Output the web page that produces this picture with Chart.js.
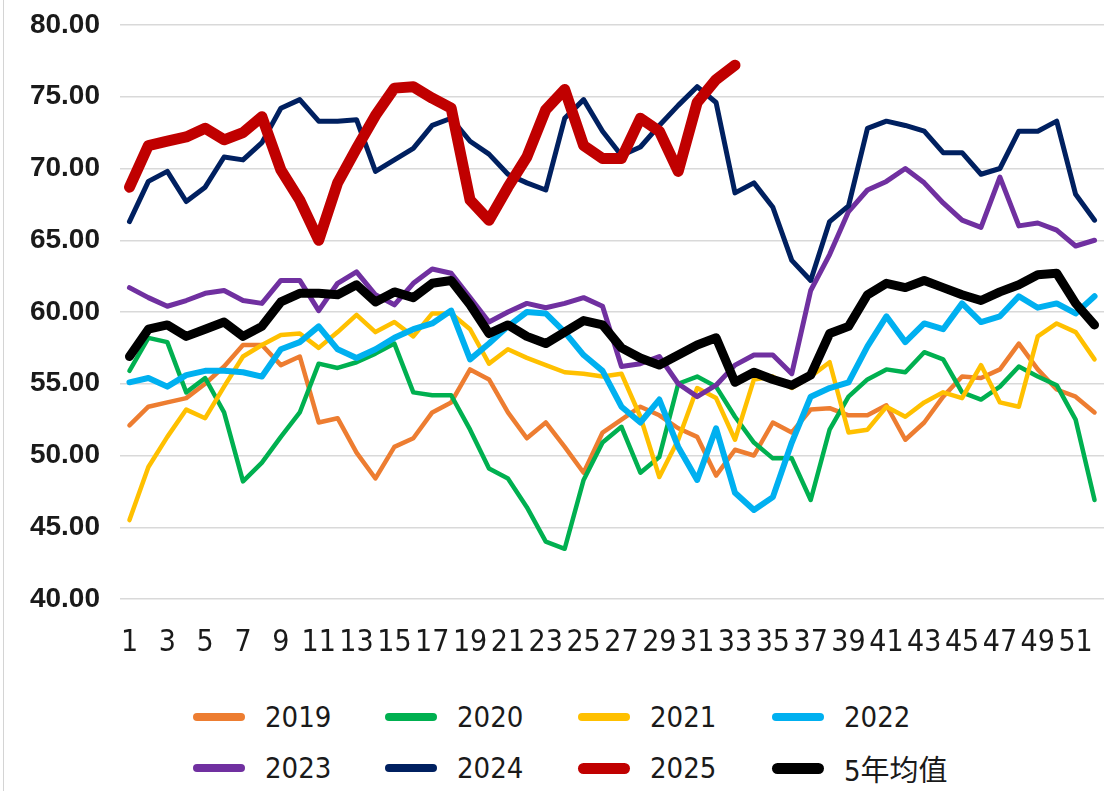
<!DOCTYPE html>
<html>
<head>
<meta charset="utf-8">
<script src="https://cdn.jsdelivr.net/npm/chart.js@4.4.1/dist/chart.umd.min.js"></script>
<style>
  html, body { margin: 0; padding: 0; background: #fff; }
  #wrap { position: relative; width: 1113px; height: 791px; overflow: hidden; background: #fff; }
  #frame { position: absolute; left: 3px; top: 0; width: 1px; height: 791px; background: #d4d4d4; }
  #chartCanvas { position: absolute; left: 0; top: 0; }
  .legend-item {
    position: absolute;
    display: flex;
    align-items: center;
    height: 40px;
    font-family: 'Liberation Sans Narrow', 'DejaVu Sans Condensed', 'Noto Sans CJK SC', sans-serif;
    font-size: 29px;
    color: #1a1a1a;
  }
  .legend-swatch { width: 52px; border-radius: 6px; margin-right: 20px; }
</style>
</head>
<body>
<div id="wrap">
  <div id="frame"></div>
  <canvas id="chartCanvas" width="1113" height="680"></canvas>
  <div id="legend"></div>
</div>
<script>
const weeks = Array.from({ length: 52 }, (_, i) => String(i + 1));
const yTicks = [40, 45, 50, 55, 60, 65, 70, 75, 80];

const y2019 = [52.1, 53.4, 53.7, 54.0, 55.0, 56.2, 57.7, 57.7, 56.3, 56.9, 52.3, 52.6, 50.2, 48.4, 50.6, 51.2, 53.0, 53.7, 56.0, 55.3, 53.0, 51.2, 52.3, 50.6, 48.8, 51.6, 52.5, 53.4, 52.8, 51.9, 51.3, 48.6, 50.4, 50.0, 52.3, 51.6, 53.2, 53.3, 52.8, 52.8, 53.5, 51.1, 52.3, 54.1, 55.5, 55.4, 56.0, 57.8, 56.0, 54.6, 54.1, 53.0];
const y2020 = [55.9, 58.2, 57.9, 54.4, 55.4, 53.0, 48.2, 49.5, 51.3, 53.0, 56.4, 56.1, 56.5, 57.1, 57.8, 54.4, 54.2, 54.2, 51.8, 49.1, 48.4, 46.4, 44.0, 43.5, 48.3, 50.9, 52.0, 48.8, 49.9, 55.0, 55.5, 54.8, 52.7, 50.9, 49.8, 49.8, 46.9, 51.8, 54.1, 55.3, 56.0, 55.8, 57.2, 56.7, 54.4, 53.9, 54.8, 56.2, 55.5, 54.9, 52.5, 46.9];
const y2021 = [45.5, 49.2, 51.3, 53.2, 52.6, 54.8, 56.9, 57.7, 58.4, 58.5, 57.5, 58.6, 59.8, 58.6, 59.3, 58.3, 59.9, 59.9, 58.8, 56.4, 57.4, 56.8, 56.3, 55.8, 55.7, 55.5, 55.7, 52.7, 48.5, 51.1, 54.7, 54.0, 51.1, 55.3, 55.5, 54.7, 55.5, 56.5, 51.6, 51.8, 53.4, 52.7, 53.7, 54.4, 54.0, 56.3, 53.7, 53.4, 58.3, 59.2, 58.6, 56.7];
const y2022 = [55.1, 55.4, 54.8, 55.6, 55.9, 55.9, 55.8, 55.5, 57.4, 57.9, 59.0, 57.4, 56.8, 57.4, 58.2, 58.8, 59.2, 60.1, 56.7, 57.8, 59.0, 60.0, 59.9, 58.6, 57.0, 55.9, 53.4, 52.3, 53.9, 50.6, 48.3, 51.9, 47.4, 46.2, 47.1, 50.9, 54.1, 54.7, 55.1, 57.6, 59.7, 57.9, 59.2, 58.8, 60.6, 59.3, 59.7, 61.1, 60.3, 60.6, 59.9, 61.1];
const y2023 = [61.7, 61.0, 60.4, 60.8, 61.3, 61.5, 60.8, 60.6, 62.2, 62.2, 60.1, 62.0, 62.8, 61.2, 60.5, 62.0, 63.0, 62.7, 61.0, 59.3, 60.0, 60.6, 60.3, 60.6, 61.0, 60.4, 56.2, 56.4, 56.9, 55.0, 54.1, 54.9, 56.3, 57.0, 57.0, 55.7, 61.5, 64.0, 67.0, 68.5, 69.1, 70.0, 69.0, 67.6, 66.4, 65.9, 69.4, 66.0, 66.2, 65.7, 64.6, 65.0];
const y2024 = [66.3, 69.1, 69.8, 67.7, 68.7, 70.8, 70.6, 71.8, 74.2, 74.8, 73.3, 73.3, 73.4, 69.8, 70.6, 71.4, 73.0, 73.5, 71.9, 71.0, 69.6, 69.0, 68.5, 73.5, 74.8, 72.6, 70.9, 71.5, 73.0, 74.4, 75.7, 74.6, 68.3, 69.0, 67.3, 63.6, 62.2, 66.3, 67.4, 72.8, 73.3, 73.0, 72.6, 71.1, 71.1, 69.6, 70.0, 72.6, 72.6, 73.3, 68.2, 66.4];
const y2025 = [68.7, 71.6, 71.9, 72.2, 72.8, 72.0, 72.5, 73.6, 69.9, 67.8, 65.0, 69.0, 71.4, 73.7, 75.6, 75.7, 74.9, 74.2, 67.8, 66.4, 68.7, 70.8, 74.1, 75.5, 71.6, 70.7, 70.7, 73.5, 72.6, 69.8, 74.6, 76.2, 77.2];
const avg5 = [56.9, 58.8, 59.1, 58.3, 58.8, 59.3, 58.3, 59.0, 60.7, 61.3, 61.3, 61.2, 61.9, 60.7, 61.4, 61.0, 62.0, 62.2, 60.5, 58.5, 59.1, 58.3, 57.8, 58.6, 59.4, 59.1, 57.5, 56.8, 56.3, 57.0, 57.7, 58.2, 55.1, 55.8, 55.3, 54.9, 55.6, 58.5, 59.0, 61.2, 62.0, 61.7, 62.2, 61.7, 61.2, 60.8, 61.4, 61.9, 62.6, 62.7, 60.6, 59.1];

const series = [
  { label: "2019", data: y2019, color: "#ED7D31", width: 4.5 },
  { label: "2020", data: y2020, color: "#00B050", width: 4.5 },
  { label: "2021", data: y2021, color: "#FFC000", width: 4.5 },
  { label: "2022", data: y2022, color: "#00B0F0", width: 6 },
  { label: "2023", data: y2023, color: "#7030A0", width: 5 },
  { label: "2024", data: y2024, color: "#002060", width: 5 },
  { label: "2025", data: y2025, color: "#C00000", width: 11 },
  { label: "5年均值", data: avg5, color: "#000000", width: 9 }
];

const narrowFont = "'Liberation Sans Narrow', 'DejaVu Sans Condensed', 'Noto Sans CJK SC', sans-serif";

const ctx = document.getElementById("chartCanvas").getContext("2d");
const chart = new Chart(ctx, {
  type: "line",
  data: {
    labels: weeks,
    datasets: series.map((s, i) => ({
      label: s.label,
      data: s.data,
      borderColor: s.color,
      backgroundColor: s.color,
      borderWidth: s.width,
      pointRadius: 0,
      tension: 0,
      borderJoinStyle: "round",
      borderCapStyle: "round",
      order: series.length - i
    }))
  },
  options: {
    responsive: false,
    animation: false,
    layout: { padding: { top: 25, right: 9, left: 0, bottom: 0 } },
    plugins: {
      legend: { display: false },
      tooltip: { enabled: false }
    },
    scales: {
      x: {
        type: "category",
        offset: true,
        grid: { display: false },
        border: { display: false },
        ticks: {
          autoSkip: false,
          maxRotation: 0,
          padding: 18,
          color: "#1a1a1a",
          font: { family: narrowFont, size: 30 },
          callback: function (val, idx) { return idx % 2 === 0 ? this.getLabelForValue(val) : ""; }
        },
        afterFit: scale => { scale.height = 81; }
      },
      y: {
        min: yTicks[0],
        max: yTicks[yTicks.length - 1],
        afterBuildTicks: scale => { scale.ticks = yTicks.map(v => ({ value: v })); },
        grid: { color: "#d9d9d9", lineWidth: 1.5, drawTicks: false },
        border: { display: false },
        ticks: {
          padding: 20,
          color: "#1a1a1a",
          font: { family: "'Liberation Sans', Arial, sans-serif", size: 28, weight: "bold" },
          callback: v => Number(v).toFixed(2)
        },
        afterFit: scale => {
          scale.width = 120;
          scale.paddingTop = 0;
          scale.paddingBottom = 0;
        }
      }
    }
  }
});

// legend in two rows of four, like the original
const legendBox = document.getElementById("legend");
const colX = [193, 385, 578, 772];
const rowY = [697, 748];
chart.data.datasets.forEach((ds, i) => {
  const item = document.createElement("div");
  item.className = "legend-item";
  item.style.left = colX[i % 4] + "px";
  item.style.top = rowY[Math.floor(i / 4)] + "px";
  const sw = document.createElement("span");
  sw.className = "legend-swatch";
  sw.style.background = ds.borderColor;
  sw.style.height = (ds.borderWidth >= 8 ? 11 : 8) + "px";
  const txt = document.createElement("span");
  txt.textContent = ds.label;
  item.appendChild(sw);
  item.appendChild(txt);
  legendBox.appendChild(item);
});
</script>
</body>
</html>
